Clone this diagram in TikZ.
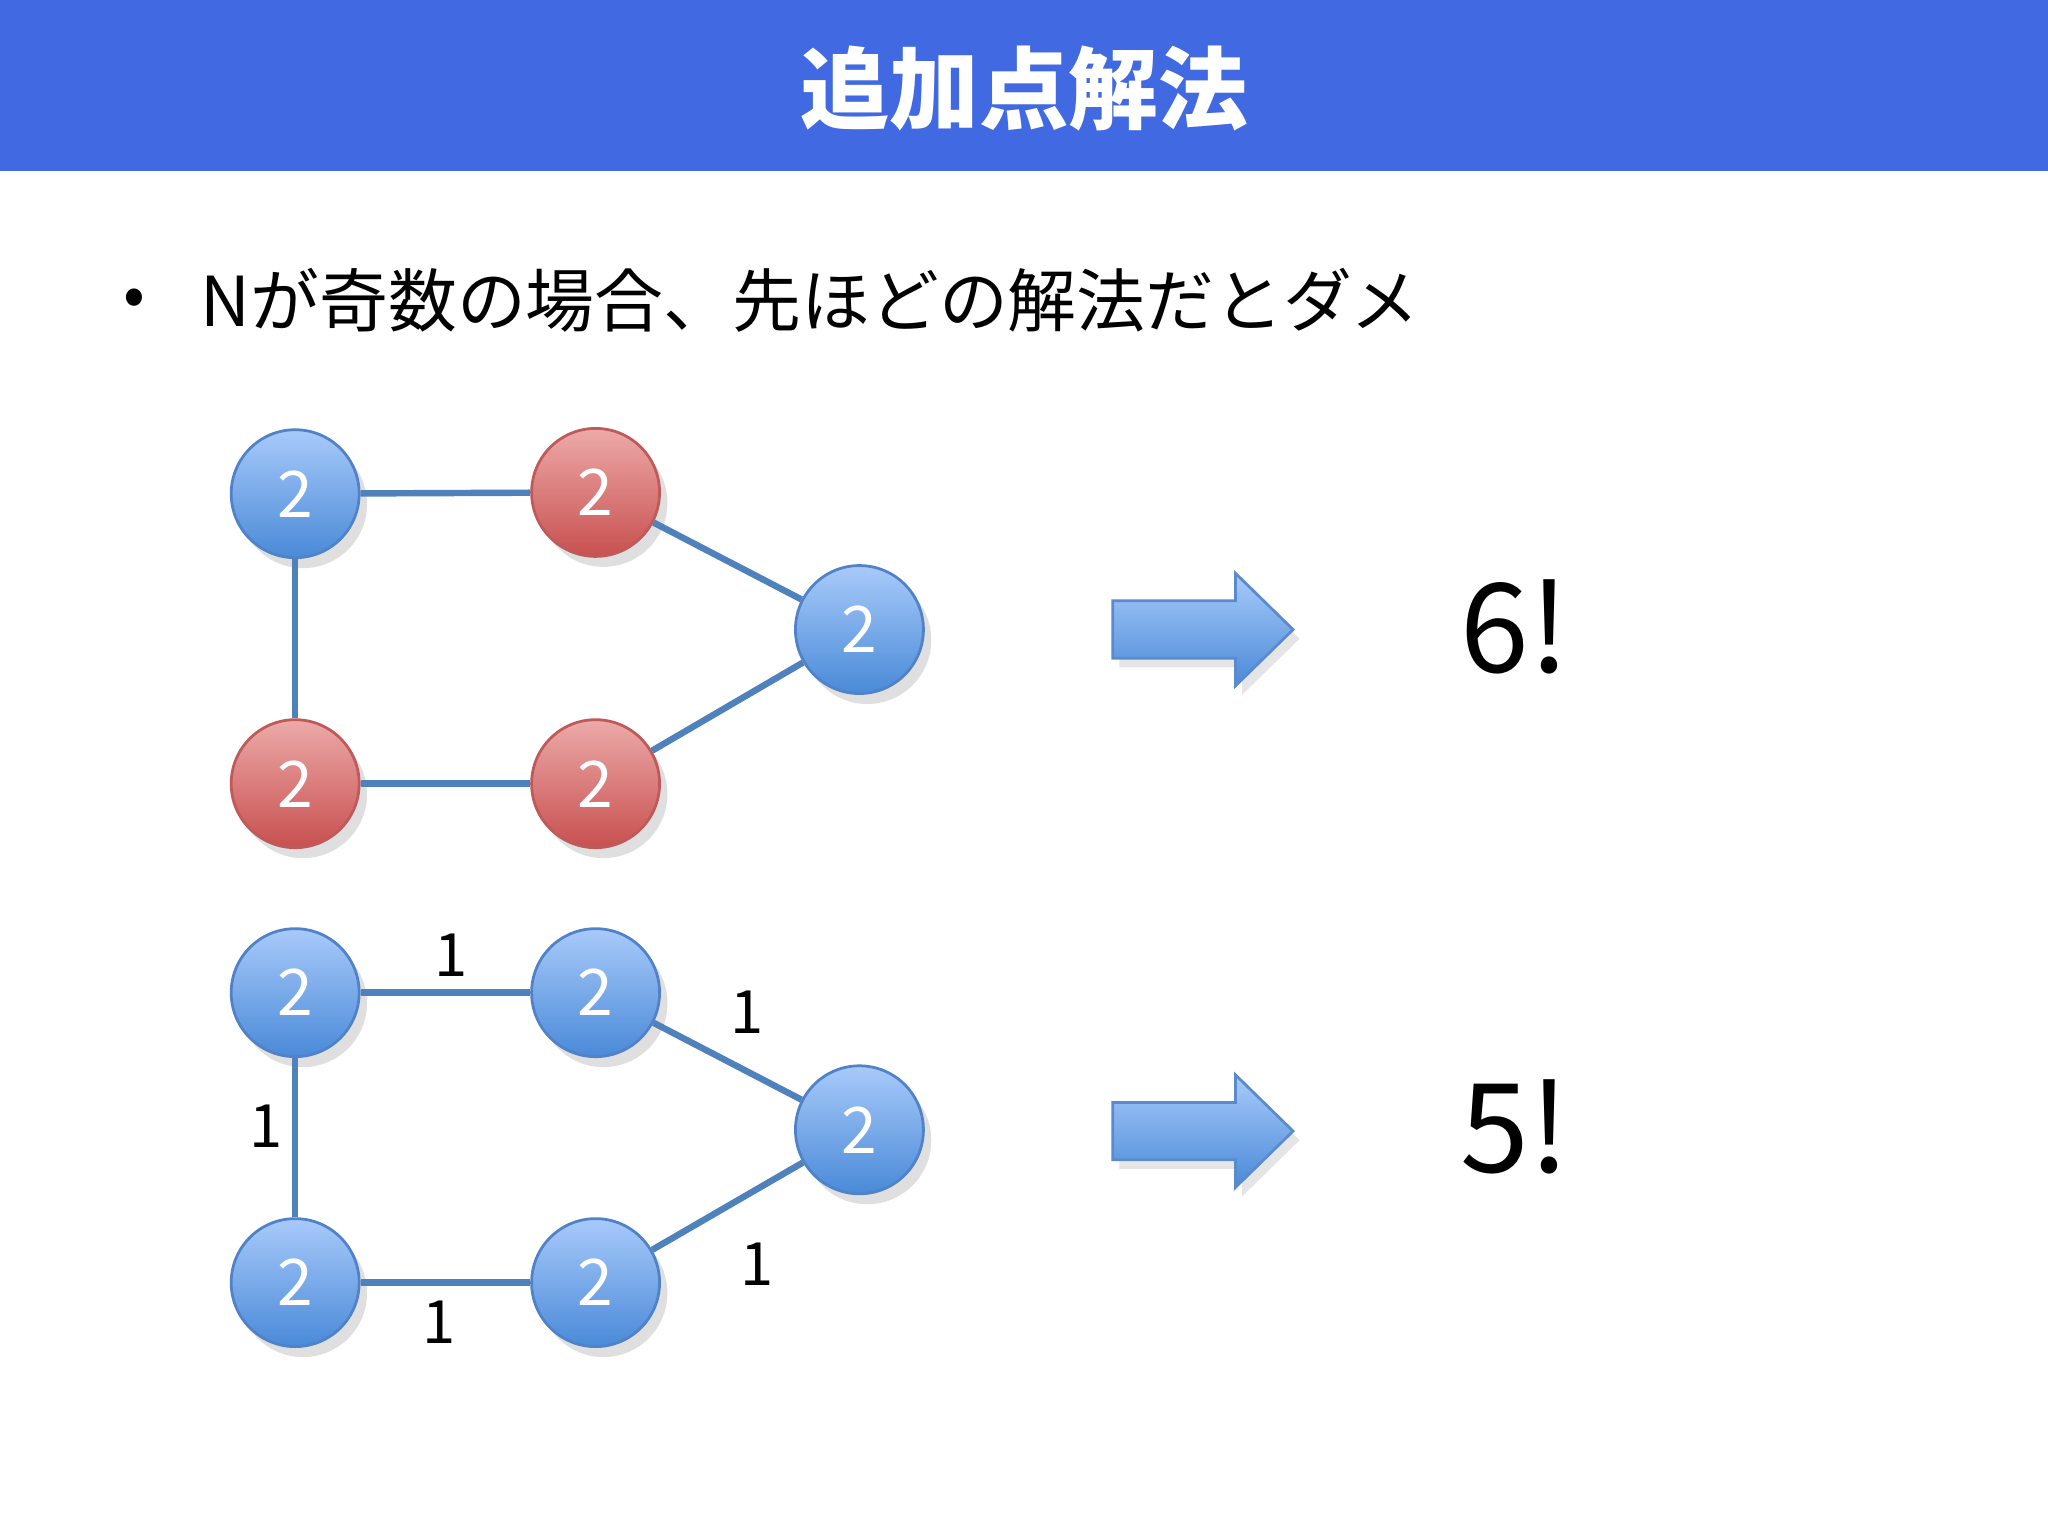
\documentclass[tikz,border=0pt]{standalone}
\usepackage{fontspec}
\setmainfont{Noto Sans CJK JP}
\usetikzlibrary{shadows}
\definecolor{titlebg}{HTML}{4169E1}
\definecolor{edgec}{HTML}{4F81BD}
\tikzset{
  x=0.1mm,y=-0.1mm,
  vb/.style={circle,minimum size=9.8mm,inner sep=0pt,line width=0.6pt,
     text=white,font=\fontsize{14}{14}\selectfont,drop shadow={opacity=0.25,shadow xshift=0.6mm,shadow yshift=-0.8mm}},
  bnode/.style={vb,top color={rgb,255:red,168;green,202;blue,250},bottom color={rgb,255:red,74;green,138;blue,216},draw={rgb,255:red,80;green,130;blue,200}},
  rnode/.style={vb,top color={rgb,255:red,236;green,170;blue,168},bottom color={rgb,255:red,200;green,80;blue,80},draw={rgb,255:red,190;green,90;blue,90}},
  edge/.style={draw=edgec,line width=1.4pt},
  elab/.style={font=\fontsize{13}{13}\selectfont,text=black},
  bigarrow/.style={bottom color={rgb,255:red,74;green,138;blue,216},top color={rgb,255:red,168;green,202;blue,250},draw={rgb,255:red,90;green,140;blue,205},line width=0.6pt,
     drop shadow={opacity=0.2,shadow xshift=0.5mm,shadow yshift=-0.7mm}},
  result/.style={font=\fontsize{27}{27}\selectfont,text=black}
}
\begin{document}
\begin{tikzpicture}
\useasboundingbox (0,0) rectangle (1568,1176);
\fill[white] (0,0) rectangle (1568,1176);
\fill[titlebg] (0,0) rectangle (1568,131);
\node[text=white,font=\fontsize{19.5}{19.5}\selectfont\bfseries] (title) at (784,68) {追加点解法};
\node[font=\fontsize{14}{14}\selectfont] (bul) at (103,232) {•};
\node[anchor=west,font=\fontsize{15}{15}\selectfont,inner sep=0pt] (txt) at (153,230) {Nが奇数の場合、先ほどの解法だとダメ};
\node[bnode] (a1) at (226,378) {2};
\node[rnode] (a2) at (456,377) {2};
\node[bnode] (a3) at (658,482) {2};
\node[rnode] (a4) at (226,600) {2};
\node[rnode] (a5) at (456,600) {2};
\node[bnode] (b1) at (226,760) {2};
\node[bnode] (b2) at (456,760) {2};
\node[bnode] (b3) at (658,865) {2};
\node[bnode] (b4) at (226,982) {2};
\node[bnode] (b5) at (456,982) {2};
\draw[edge] (a1) -- (a2);
\draw[edge] (a2) -- (a3);
\draw[edge] (a1) -- (a4);
\draw[edge] (a4) -- (a5);
\draw[edge] (a5) -- (a3);
\draw[edge] (b1) -- (b2);
\draw[edge] (b2) -- (b3);
\draw[edge] (b1) -- (b4);
\draw[edge] (b4) -- (b5);
\draw[edge] (b5) -- (b3);
\node[elab] (l1) at (345,731) {1};
\node[elab] (l2) at (572,775) {1};
\node[elab] (l3) at (204,862) {1};
\node[elab] (l4) at (336,1012) {1};
\node[elab] (l5) at (580,968) {1};
\foreach \yy in {482,866}{
  \path[bigarrow] (852,\yy-22) -- (946,\yy-22) -- (946,\yy-43) -- (990,\yy) -- (946,\yy+43) -- (946,\yy+22) -- (852,\yy+22) -- cycle;
}
\node[result] (r1) at (1160,480) {6!};
\node[result] (r2) at (1160,863) {5!};
\end{tikzpicture}
\end{document}
